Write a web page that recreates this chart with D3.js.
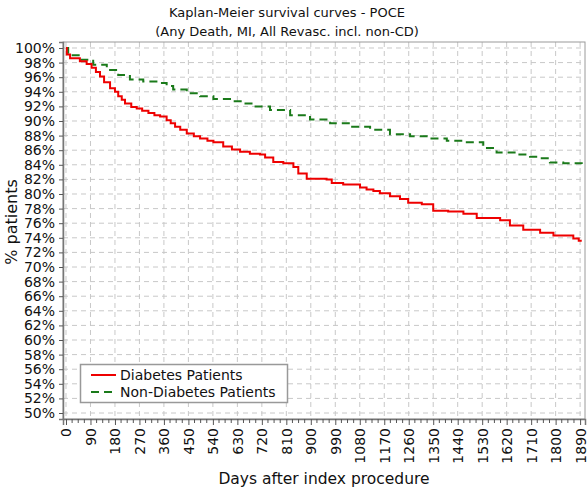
<!DOCTYPE html>
<html><head><meta charset="utf-8">
<script src="https://cdn.jsdelivr.net/npm/d3@7"></script>
<style>body{margin:0;background:#fff}svg{display:block}text{font-family:"DejaVu Sans",Verdana,sans-serif;fill:#111}</style>
</head><body><svg id="c" width="588" height="487"></svg>
<script>
const titleLines = ["Kaplan-Meier survival curves - POCE", "(Any Death, MI, All Revasc. incl. non-CD)"];
const xLabel = "Days after index procedure";
const yLabel = "% patients";
const seriesNames = ["Diabetes Patients", "Non-Diabetes Patients"];
const xTicks = d3.range(0, 1891, 90);
const yTicks = d3.range(50, 101, 2);
// [day, % surviving]
const diabetesDays = [0, 3, 15, 51, 76, 94, 110, 125, 140, 162, 180, 192, 205, 217, 240, 260, 280, 303, 325, 346, 370, 385, 401, 420, 444, 470, 493, 520, 542, 578, 610, 640, 676, 713, 732, 762, 799, 836, 854, 885, 958, 977, 1019, 1081, 1105, 1130, 1154, 1191, 1228, 1258, 1308, 1350, 1405, 1461, 1510, 1596, 1632, 1681, 1743, 1792, 1865, 1885, 1896];
const diabetesVals = [100, 99.1, 98.6, 98.2, 97.8, 97.3, 96.7, 96.1, 95.3, 94.5, 94.0, 93.4, 92.9, 92.4, 91.9, 91.7, 91.4, 91.1, 90.8, 90.6, 90.1, 89.7, 89.2, 88.8, 88.3, 87.9, 87.6, 87.3, 87.1, 86.5, 86.1, 85.8, 85.5, 85.4, 85.0, 84.4, 84.2, 83.7, 82.8, 82.1, 82.0, 81.5, 81.3, 80.9, 80.6, 80.4, 80.1, 79.7, 79.3, 78.8, 78.6, 77.7, 77.6, 77.3, 76.7, 76.4, 75.7, 75.1, 74.7, 74.3, 73.9, 73.6, 73.6];
const nonDiabetesDays = [0, 8, 51, 100, 150, 192, 235, 284, 346, 370, 394, 444, 493, 542, 603, 652, 689, 750, 824, 897, 971, 1044, 1118, 1191, 1265, 1338, 1400, 1461, 1534, 1583, 1657, 1706, 1743, 1779, 1828, 1896];
const nonDiabetesVals = [100, 99.0, 98.4, 97.7, 97.0, 96.3, 95.7, 95.4, 95.2, 94.8, 94.3, 93.8, 93.4, 93.0, 92.7, 92.4, 92.0, 91.5, 90.8, 90.2, 89.7, 89.2, 88.8, 88.2, 87.9, 87.6, 87.3, 87.1, 86.3, 85.7, 85.4, 85.1, 84.9, 84.3, 84.2, 84.1];
const colors = ["#ee0000", "#1a7a1a"];

const svg = d3.select("#c");
const L = 63, R = 585, T = 42, B = 419;
const x = d3.scaleLinear().domain([-11, 1908]).range([L, R]);
const y = d3.scaleLinear().domain([49.18, 100.82]).range([B, T]);
const FONT = '"DejaVu Sans",Verdana,sans-serif';

// grid
const g = svg.append("g");
g.selectAll("line.gx").data(xTicks).join("line")
  .attr("x1", d => x(d)).attr("x2", d => x(d)).attr("y1", T).attr("y2", B)
  .attr("stroke", "#c8c8c8").attr("stroke-dasharray", "5,4");
g.selectAll("line.gy").data(yTicks).join("line")
  .attr("y1", d => y(d)).attr("y2", d => y(d)).attr("x1", L).attr("x2", R)
  .attr("stroke", "#c8c8c8").attr("stroke-dasharray", "5,4");

// frame
svg.append("rect").attr("x", L).attr("y", T).attr("width", R - L).attr("height", B - T)
  .attr("fill", "none").attr("stroke", "#9a9a9a").attr("stroke-width", 1);

// axes
const xAxis = d3.axisBottom(x).tickValues(xTicks).tickSize(6).tickPadding(4).tickFormat(d3.format("d"));
const xa = svg.append("g").attr("transform", `translate(0,${B})`).call(xAxis);
xa.select(".domain").attr("stroke", "#777").attr("stroke-width", 1.5);
xa.selectAll(".tick line").attr("stroke", "#555");
xa.selectAll(".tick text").attr("transform", "rotate(-90)").attr("text-anchor", "end")
  .attr("x", -9).attr("y", 0).attr("dy", "0.35em").style("font-size", "14px").style("font-family", FONT).attr("fill", "#111");
const minor = d3.range(0, 1891, 22.5).filter(d => d % 90 !== 0);
svg.append("g").selectAll("line").data(minor).join("line")
  .attr("x1", d => x(d)).attr("x2", d => x(d)).attr("y1", B).attr("y2", B + 4).attr("stroke", "#555");

const yAxis = d3.axisLeft(y).tickValues(yTicks).tickSize(4).tickPadding(4).tickFormat(d => d + "%");
const ya = svg.append("g").attr("transform", `translate(${L},0)`).call(yAxis);
ya.select(".domain").attr("stroke", "#777").attr("stroke-width", 1.5);
ya.selectAll(".tick line").attr("stroke", "#555");
ya.selectAll(".tick text").style("font-size", "14px").style("font-family", FONT).attr("fill", "#111");

// curves
const line = d3.line().x(d => x(d[0])).y(d => y(d[1])).curve(d3.curveStepAfter);
const s1 = diabetesDays.map((d, i) => [d, diabetesVals[i]]);
const s2 = nonDiabetesDays.map((d, i) => [d, nonDiabetesVals[i]]);
svg.append("path").datum(s2).attr("d", line).attr("fill", "none").attr("stroke", colors[1]).attr("stroke-width", 2).attr("stroke-dasharray", "8,5");
svg.append("path").datum(s1).attr("d", line).attr("fill", "none").attr("stroke", colors[0]).attr("stroke-width", 2);

// titles
svg.selectAll("text.title").data(titleLines).join("text").attr("class", "title")
  .attr("x", 287).attr("y", (d, i) => 17 + i * 19).attr("text-anchor", "middle").style("font-size", "13px").text(d => d);
svg.append("text").attr("x", 324).attr("y", 484).attr("text-anchor", "middle").style("font-size", "15.5px").text(xLabel);
svg.append("text").attr("transform", "translate(17,222) rotate(-90)").attr("text-anchor", "middle").style("font-size", "16px").text(yLabel);

// legend
const lg = svg.append("g");
lg.append("rect").attr("x", 80.5).attr("y", 364.5).attr("width", 207).attr("height", 38)
  .attr("fill", "#fff").attr("stroke", "#999").attr("stroke-width", 1.5);
seriesNames.forEach((n, i) => {
  const yy = 375 + i * 17;
  lg.append("line").attr("x1", 91).attr("x2", 116).attr("y1", yy).attr("y2", yy)
    .attr("stroke", colors[i]).attr("stroke-width", 2).attr("stroke-dasharray", i ? "8,5" : null);
  lg.append("text").attr("x", 120).attr("y", yy).attr("dy", "0.35em").style("font-size", "14px").text(n);
});
</script></body></html>
